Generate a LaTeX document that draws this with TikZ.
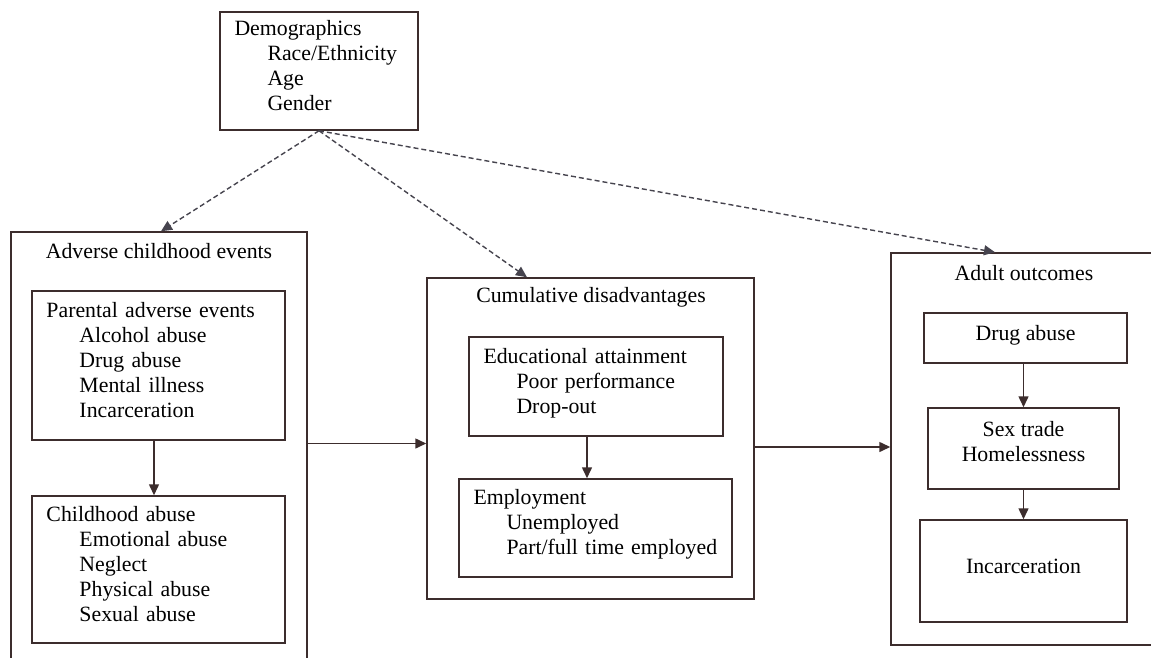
\documentclass[tikz,border=0pt]{standalone}
\usepackage{fontspec}
\setmainfont{Liberation Serif}
\usetikzlibrary{calc}
\usetikzlibrary{positioning}
\usetikzlibrary {arrows.meta}

\definecolor{linecol}{RGB}{60,45,45}
\definecolor{dashcol}{RGB}{70,68,78}
\newcommand{\ind}{\hspace*{16.5pt}}
\newcommand{\lastdp}{\rule[-6pt]{0pt}{6pt}}

\begin{document}
\begin{tikzpicture}[
    x=0.5pt, y=-0.5pt,
    every node/.style={font=\fontsize{10.9}{12.5}\selectfont},
    outerbox/.style={rectangle, draw=linecol, line width=0.75pt, inner sep=0pt},
    innerbox/.style={rectangle, draw=linecol, line width=0.75pt, align=left, inner xsep=7.25pt, inner ysep=0pt},
    midbox/.style={rectangle, draw=linecol, line width=0.75pt, align=center, inner sep=0pt, text depth=5pt},
    arrowline/.style={draw=linecol, line width=0.75pt, -{Triangle[length=5.5pt, width=5pt]}},
    dashline/.style={draw=dashcol, line width=0.7pt, dash pattern=on 2.5pt off 1.5pt, -{Triangle[length=5.5pt, width=5pt]}}
]
    \useasboundingbox (0, 0) rectangle (1151, 658);
    \clip (0, 0) rectangle (1151, 658);

    % Demographics
    \node at (319, 71) [innerbox, text width=84.5pt, minimum height=59pt](demographics){Demographics\\ \ind Race/Ethnicity\\ \ind Age\\ \ind Gender\lastdp};

    % Adverse childhood events
    % - [Outer frame, runs off the bottom]
    \node at (159, 466) [outerbox, minimum width=148pt, minimum height=234pt](adverse){};
    \node at (159, 251) (adverse_title){Adverse childhood events};
    % -- Parental events and abuse
    \node at (158.5, 365.5) [innerbox, text width=112pt, minimum height=74.5pt](parental){Parental adverse events\\ \ind Alcohol abuse\\ \ind Drug abuse\\ \ind Mental illness\\ \ind Incarceration\lastdp};
    \node at (158.5, 569.5) [innerbox, text width=112pt, minimum height=73.5pt](child_abuse){Childhood abuse\\ \ind Emotional abuse\\ \ind Neglect\\ \ind Physical abuse\\ \ind Sexual abuse\lastdp};
    \draw [arrowline] ([xshift=-2.25pt]parental.south) -- ([xshift=-2.25pt]child_abuse.north);

    % Cumulative disadvantages
    \node at (590.5, 438.5) [outerbox, minimum width=163.5pt, minimum height=160.5pt](cumulative){};
    \node at (591, 297) (cumulative_title){Cumulative disadvantages};
    \node at (596, 386.5) [innerbox, text width=112.5pt, minimum height=49.5pt](education){Educational attainment\\ \ind Poor performance\\ \ind Drop-out\lastdp};
    \node at (595.5, 528) [innerbox, text width=122pt, minimum height=49pt](employment){Employment\\ \ind Unemployed\\ \ind Part/full time employed\lastdp};
    \draw [arrowline] ([xshift=-4.5pt]education.south) -- ([xshift=-4.5pt]education.south |- employment.north);

    % Adult outcomes
    % - [Outer frame, runs off the right edge]
    \node at (1030.5, 449) [outerbox, minimum width=139.5pt, minimum height=196pt](adult){};
    \node at (1024, 273) (adult_title){Adult outcomes};
    \node at (1025.5, 338) [midbox, minimum width=101.5pt, minimum height=25pt](drug_abuse){Drug abuse};
    \node at (1023.5, 448.5) [midbox, minimum width=95.5pt, minimum height=40.5pt, text depth=7pt](sex_trade){Sex trade\\Homelessness};
    \node at (1023.5, 571) [midbox, minimum width=103.5pt, minimum height=51pt](incarceration){Incarceration};
    \draw [arrowline] (drug_abuse.south -| sex_trade.north) -- (sex_trade.north);
    \draw [arrowline] (sex_trade.south) -- (incarceration.north);

    % Solid links between the frames
    \draw [arrowline] ([yshift=-2.5pt]cumulative.west -| adverse.east) -- ([yshift=-2.5pt]cumulative.west);
    \draw [arrowline] ([yshift=-4.25pt]cumulative.east) -- ([yshift=-4.25pt]cumulative.east -| adult.west);

    % Dashed links from demographics
    \draw [dashline] (demographics.south) -- ([xshift=1pt]adverse.north);
    \draw [dashline] (demographics.south) -- ([xshift=-31.75pt]cumulative.north);
    \draw [dashline] (demographics.south) -- ([xshift=-17.75pt]adult.north);

\end{tikzpicture}
\end{document}
